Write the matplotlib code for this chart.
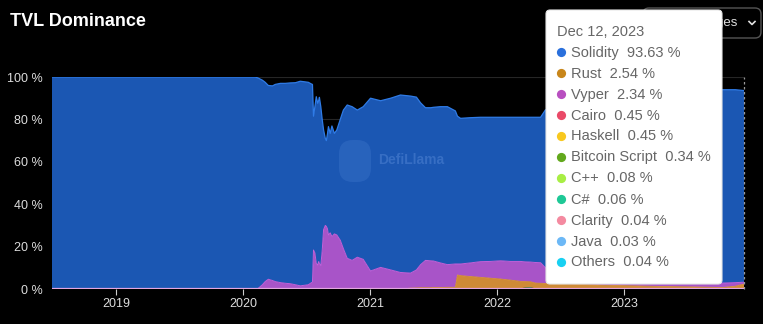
import numpy as np
import pandas as pd
import matplotlib
matplotlib.use("Agg")
import matplotlib.pyplot as plt
from matplotlib.patches import FancyBboxPatch, Circle
from matplotlib.lines import Line2D

# ---------------- data ----------------
dates = ["2018-07-01", "2020-01-01", "2020-02-05", "2020-02-14", "2020-02-26", "2020-03-05",
         "2020-03-14", "2020-03-26", "2020-04-03", "2020-04-18", "2020-05-02", "2020-05-16",
         "2020-05-31", "2020-06-14", "2020-07-07", "2020-07-16", "2020-07-19", "2020-07-22",
         "2020-07-26", "2020-07-30", "2020-08-03", "2020-08-06", "2020-08-08", "2020-08-12",
         "2020-08-16", "2020-08-20", "2020-08-25", "2020-08-28", "2020-08-31", "2020-09-03",
         "2020-09-08", "2020-09-13", "2020-09-20", "2020-09-27", "2020-10-07", "2020-10-16",
         "2020-10-27", "2020-11-10", "2020-11-25", "2020-12-12", "2021-01-02", "2021-01-31",
         "2021-03-01", "2021-03-29", "2021-04-27", "2021-05-14", "2021-05-26", "2021-06-09",
         "2021-06-24", "2021-07-02", "2021-07-22", "2021-08-11", "2021-09-03", "2021-09-09",
         "2021-09-18", "2021-10-16", "2021-11-14", "2021-12-13", "2022-01-11", "2022-02-08",
         "2022-03-09", "2022-03-23", "2022-04-07", "2022-04-21", "2022-05-06", "2022-05-20",
         "2022-08-29", "2022-12-22", "2023-04-16", "2023-08-09", "2023-10-11", "2023-11-17",
         "2023-12-12"]

solidity = [100, 100, 100, 99.2, 96.5, 94, 91.4, 91.8, 93, 94, 94.3, 94.7,
            95.3, 96.5, 95.5, 93.7, 93.3, 63.1, 69, 78.7, 76.3, 76, 78.4, 75,
            62, 47, 41, 40.5, 44.5, 51.1, 46.9, 52.2, 47.4, 49.5, 57, 65.4,
            72.3, 72.5, 69.4, 72, 81.5, 78.6, 81, 83.7, 83.5, 81.5, 76.3, 72,
            72.2, 72.5, 73.7, 74.5, 72.2, 69.7, 68.7, 68.5, 68.1, 68, 67.7, 68,
            68, 68.2, 68.3, 68.5, 68.6, 74.5, 78, 82, 85, 88, 91.2, 91, 90.4]

vyper = [0, 0, 0, 0.3, 2, 3.5, 4.6, 4, 3.5, 3, 2.7, 2.5,
         2, 1.5, 2, 3, 3.2, 18.4, 17, 12, 11.3, 13, 12, 11,
         18, 28, 30, 29.5, 28.5, 25.5, 26.5, 24.7, 26, 25.5, 23, 19,
         14.5, 13.5, 15, 14, 8.5, 10.2, 9, 7.8, 7.1, 8.5, 10.9, 12.9,
         12.7, 12.5, 11.6, 10.7, 11.0, 5.2, 5.5, 6.4, 7.4, 7.9, 8.6, 8.8,
         9.4, 9.3, 9.3, 9.7, 9.7, 7.4, 5.9, 4.4, 3.8, 3.1, 2.1, 1.7, 0.9]

rust = [0, 0, 0, 0, 0, 0, 0, 0, 0, 0, 0, 0,
        0, 0, 0, 0, 0, 0, 0, 0, 0, 0, 0, 0,
        0, 0, 0, 0, 0, 0, 0, 0, 0, 0, 0, 0,
        0, 0, 0, 0, 0, 0, 0, 0, 0.4, 0.5, 0.6, 0.6,
        0.6, 0.4, 0.4, 0.5, 0.5, 6.3, 6.0, 5.6, 5.2, 4.8, 4.4, 3.9,
        3.3, 2.8, 2.6, 2.5, 2.4, 2.3, 1.8, 1.3, 0.9, 0.6, 0.4, 1.0, 2.0]

csharp = [0] * 61 + [0.4, 0.5] + [0] * 10

java = [0] * 49 + [0.3] * 24

year_ticks = ["2019", "2020", "2021", "2022", "2023"]
y_ticks = [0, 20, 40, 60, 80, 100]

tooltip_date = "Dec 12, 2023"
tooltip_names = ["Solidity", "Rust", "Vyper", "Cairo", "Haskell", "Bitcoin Script",
                 "C++", "C#", "Clarity", "Java", "Others"]
tooltip_values = [93.63, 2.54, 2.34, 0.45, 0.45, 0.34, 0.08, 0.06, 0.04, 0.03, 0.04]
tooltip_colors = ["#2a70dc", "#c8861a", "#b84fc0", "#ea4a68", "#f8c81e", "#62a81c",
                  "#a8ee44", "#1ec896", "#f48aa0", "#6cb8f6", "#18d0f2"]

# ---------------- figure ----------------
FONT = "Liberation Sans"
W, H = 763, 324
fig = plt.figure(figsize=(W / 100, H / 100), dpi=100, facecolor="black")

ax_l, ax_r, ax_t, ax_b = 52, 744, 77, 289
ax = fig.add_axes([ax_l / W, 1 - ax_b / H, (ax_r - ax_l) / W, (ax_b - ax_t) / H])
ax.set_facecolor("black")

x = pd.to_datetime(dates)
ax.stackplot(x, java, csharp, rust, vyper, solidity,
             colors=["#6cb8f6", "#1ec8a0", "#cf8a36", "#a854c8", "#1b57b3"],
             linewidth=0, zorder=2)
cum = np.cumsum(np.array([java, csharp, rust, vyper, solidity], dtype=float), axis=0)
ax.plot(x, cum[4], color="#2f7be6", lw=0.9, zorder=3)
ax.plot(x, cum[3], color="#c262dc", lw=0.7, zorder=3)
ax.plot(x, cum[2], color="#e09a40", lw=0.6, zorder=3)
ax.axhline(0, color="#e2a6e0", lw=1.6, zorder=4)

ax.set_xlim(x[0], x[-1])
ax.set_ylim(0, 100)
for v in y_ticks:
    ax.axhline(v, color="#262626", lw=0.8, zorder=1)

ax.set_yticks(y_ticks)
ax.set_yticklabels([f"{v} %" for v in y_ticks])
ax.set_xticks(pd.to_datetime([f"{y}-01-01" for y in year_ticks]))
ax.set_xticklabels(year_ticks)
ax.tick_params(axis="y", length=0, pad=6.5, labelsize=9, labelcolor="#dddddd")
ax.tick_params(axis="x", length=4, width=0.8, color="#cccccc", pad=2.5,
               labelsize=9, labelcolor="#dddddd")
for lab in ax.get_xticklabels() + ax.get_yticklabels():
    lab.set_fontfamily(FONT)
for s in ax.spines.values():
    s.set_visible(False)

# cursor line
ax.axvline(x[-1], color="#9a9a9a", lw=0.9, ls=(0, (2, 2)), zorder=5, clip_on=False)

# watermark
ax.text(0.472, 0.61, "DefiLlama", transform=ax.transAxes, fontsize=10, fontweight="bold",
        color="#4a7fd0", alpha=0.6, family=FONT, va="center", ha="left", zorder=6)

# ---------------- overlay in pixel coordinates ----------------
ov = fig.add_axes([0, 0, 1, 1], zorder=10)
ov.set_xlim(0, W)
ov.set_ylim(H, 0)
ov.axis("off")
ov.patch.set_alpha(0)

# watermark logo
ov.add_patch(FancyBboxPatch((339, 140), 32, 42, boxstyle="round,pad=0,rounding_size=14",
                            facecolor="#5a8ee0", edgecolor="none", alpha=0.22, zorder=1))

ov.text(10, 22, "TVL Dominance", fontsize=13, fontweight="bold", color="white",
        family=FONT, va="center", ha="left")

# dropdown button (behind tooltip)
ov.add_patch(FancyBboxPatch((643, 8), 118, 30, boxstyle="round,pad=0,rounding_size=6",
                            facecolor="black", edgecolor="#555555", lw=1, zorder=2))
ov.text(738, 23, "Languages", fontsize=9.5, color="#e0e0e0", family=FONT,
        va="center", ha="right", zorder=3)
ov.add_line(Line2D([749, 752, 755], [21.5, 24.5, 21.5], color="#e0e0e0", lw=1.2, zorder=3))

# tooltip
ov.add_patch(FancyBboxPatch((546, 10), 176, 274, boxstyle="round,pad=0,rounding_size=4",
                            facecolor="white", edgecolor="#e6e6e6", lw=0.8, zorder=5))
ov.text(557, 32, tooltip_date, fontsize=10.5, color="#666666", family=FONT,
        va="center", ha="left", zorder=6)
for i, (n, v, c) in enumerate(zip(tooltip_names, tooltip_values, tooltip_colors)):
    yy = 52.5 + i * 21.0
    ov.add_patch(Circle((561.5, yy), 4.6, facecolor=c, edgecolor="none", zorder=6))
    ov.text(571, yy, f"{n}  {v:.2f} %", fontsize=10.5, color="#666666", family=FONT,
            va="center", ha="left", zorder=6)

fig.savefig("out.png", dpi=100, facecolor="black")
